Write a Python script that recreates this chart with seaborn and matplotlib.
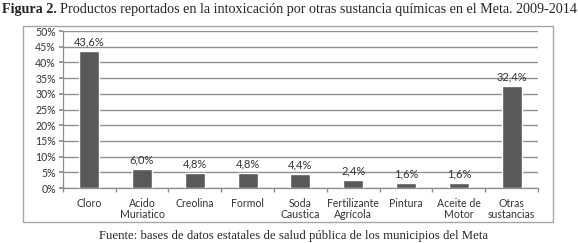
import matplotlib
matplotlib.use("Agg")
import matplotlib.pyplot as plt
import seaborn as sns
import pandas as pd
from matplotlib.patches import Rectangle

categories = ["Cloro", "Acido\nMuriatico", "Creolina", "Formol", "Soda\nCaustica",
              "Fertilizante\nAgrícola", "Pintura", "Aceite de\nMotor", "Otras\nsustancias"]
values = [43.6, 6.0, 4.8, 4.8, 4.4, 2.4, 1.6, 1.6, 32.4]
labels = ["43,6%", "6,0%", "4,8%", "4,8%", "4,4%", "2,4%", "1,6%", "1,6%", "32,4%"]
yticks = [0, 5, 10, 15, 20, 25, 30, 35, 40, 45, 50]

sns.set_theme(style="white")
plt.rcParams['font.family'] = ['Lato', 'DejaVu Sans']

df = pd.DataFrame({"cat": categories, "val": values})

fig = plt.figure(figsize=(5.78, 2.43), dpi=100)
ax = fig.add_axes([0.1085, 0.2263, 0.931 - 0.1085, 0.8724 - 0.2263])

# chart box
fig.patches.append(Rectangle((0.0398, 0.0864), 0.9567 - 0.0398, 0.893 - 0.0864,
                             transform=fig.transFigure, fill=False,
                             edgecolor="#a6a6a6", linewidth=1.0))

sns.barplot(data=df, x="cat", y="val", color="#595959", width=0.38,
            saturation=1, ax=ax, zorder=3)

ax.set_ylim(0, 50)
ax.set_xlim(-0.5, len(categories) - 0.5)
ax.set_yticks(yticks)
ax.set_yticklabels([f"{t}%" for t in yticks], fontsize=7.6, color="#333333")
ax.set_xticks(range(len(categories)))
ax.set_xticklabels(categories, fontsize=7.6, color="#333333", linespacing=1.05)
ax.set_xlabel("")
ax.set_ylabel("")
ax.yaxis.grid(True, color="#8f8f8f", linewidth=1.0, zorder=0)
ax.set_axisbelow(True)
for s in ["top", "right"]:
    ax.spines[s].set_visible(False)
for s in ["left", "bottom"]:
    ax.spines[s].set_color("#8c8c8c")
    ax.spines[s].set_linewidth(0.9)

ax.tick_params(axis="y", which="major", length=3, color="#8c8c8c", left=True, pad=2)
ax.tick_params(axis="x", which="major", length=0, pad=7)
ax.set_xticks([i + 0.5 for i in range(-1, len(categories))], minor=True)
ax.tick_params(axis="x", which="minor", length=3, color="#8c8c8c", bottom=True)

for i, (v, lab) in enumerate(zip(values, labels)):
    ax.text(i, v + 1.2, lab, ha="center", va="bottom", fontsize=8, color="#333333")

# title
serif = ["Liberation Serif", "DejaVu Serif"]
t1 = fig.text(0.004, 0.962, "Figura 2.", fontsize=10.2, fontweight="bold",
              family=serif, va="center", ha="left")
fig.canvas.draw()
r = fig.canvas.get_renderer()
bb = t1.get_window_extent(r)
x2 = (bb.x1 + 3) / fig.bbox.width
fig.text(x2, 0.962, "Productos reportados en la intoxicación por otras sustancia químicas en el Meta. 2009-2014",
         fontsize=10.2, family=serif, va="center", ha="left")

fig.text(0.507, 0.03, "Fuente: bases de datos estatales de salud pública de los municipios del Meta",
         fontsize=9.2, family=serif, va="center", ha="center")

fig.savefig("out.png", dpi=100)
